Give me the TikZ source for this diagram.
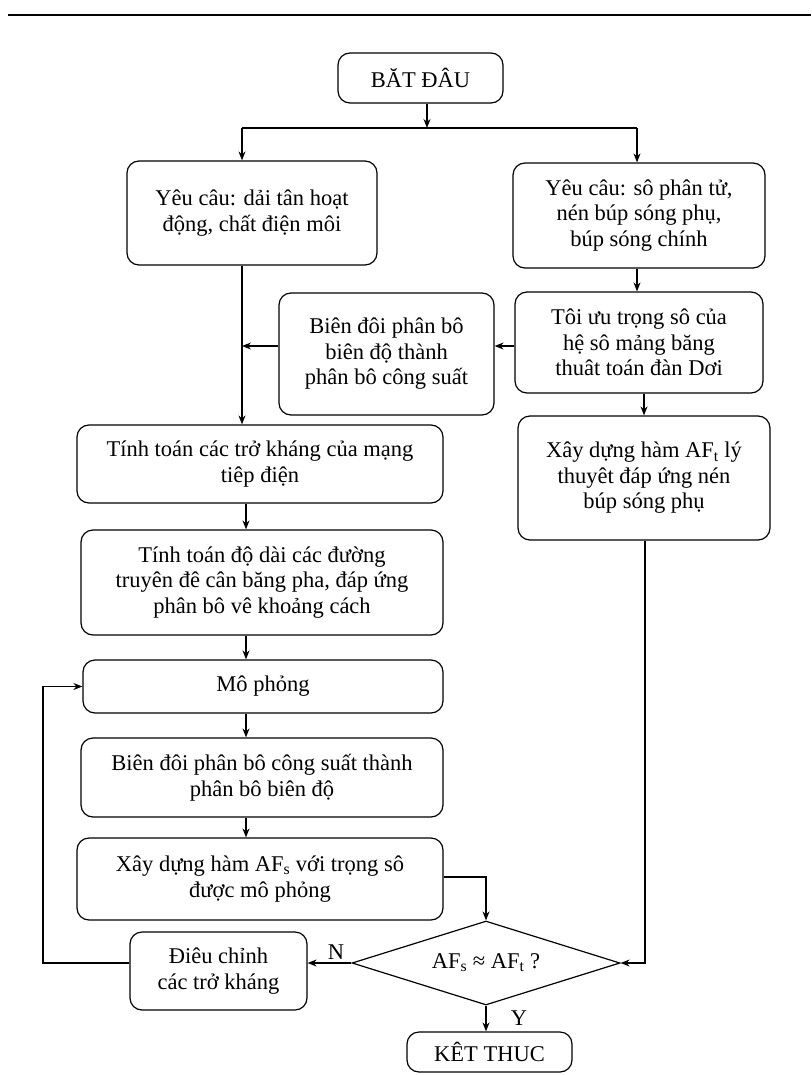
\documentclass[tikz,border=0pt]{standalone}
\usepackage{fontspec}
\setmainfont{Liberation Serif}
\usetikzlibrary{shapes.geometric,arrows.meta,positioning}

\begin{document}
\begin{tikzpicture}[x=1pt,y=-1pt,align=center,font=\fontsize{22.5}{25.5}\selectfont,
    line width=1.2pt,>={Stealth[length=9pt,width=7pt]},
    block/.style={rectangle,rounded corners=12pt,draw=black,line width=1.2pt,inner sep=2pt},
    decide/.style={diamond,draw=black,line width=1.2pt,inner sep=0pt,aspect=3.2}]
      \useasboundingbox (0,0) rectangle (811,1075);
      % header rule
      \draw[line width=1.5pt] (8,15) -- (811,15);

    % main modules
      \node[block,minimum width=165pt,minimum height=50pt] (start) at (420.5,78) {BĂT ĐÂU};
      \node[block,minimum width=250pt,minimum height=104pt] (req1) at (252,213) {Yêu câu: dải tân hoạt\\động, chất điện môi};
      \node[block,minimum width=252pt,minimum height=105pt] (req2) at (639,215.5) {Yêu câu: sô phân tử,\\nén búp sóng phụ,\\búp sóng chính};
      \node[block,minimum width=248pt,minimum height=101pt] (opt) at (639,342.5) {Tôi ưu trọng sô của\\hệ sô mảng băng\\thuât toán đàn Dơi};
      \node[block,minimum width=215pt,minimum height=122pt] (conv) at (386.5,354) {Biên đôi phân bô\\biên độ thành\\phân bô công suất};
      \node[block,minimum width=252pt,minimum height=124pt] (aft) at (644,478) {Xây dựng hàm AF\textsubscript{t} lý\\thuyêt đáp ứng nén\\búp sóng phụ};
      \node[block,minimum width=366pt,minimum height=78pt] (imp) at (260,464) {Tính toán các trở kháng của mạng\\tiêp điện};
      \node[block,minimum width=362pt,minimum height=105pt] (len) at (262,582.5) {Tính toán độ dài các đường\\truyên đê cân băng pha, đáp ứng\\phân bô vê khoảng cách};
      \node[block,minimum width=360pt,minimum height=53pt] (sim) at (263,686.5) {Mô phỏng};
      \node[block,minimum width=362pt,minimum height=79pt] (p2a) at (262,777.5) {Biên đôi phân bô công suất thành\\phân bô biên độ};
      \node[block,minimum width=366pt,minimum height=82pt] (afs) at (260,879) {Xây dựng hàm AF\textsubscript{s} với trọng sô\\được mô phỏng};
      % compare
      \node[decide,minimum width=268pt,minimum height=84pt] (dec) at (486,963) {AF\textsubscript{s} ≈ AF\textsubscript{t} ?};
      \node[block,minimum width=177pt,minimum height=78pt] (adj) at (218.5,971) {Điêu chỉnh\\các trở kháng};
      \node[block,minimum width=165pt,minimum height=40pt] (end) at (489.5,1052) {KÊT THUC};

      % junctions
      \coordinate (split) at (427,128);
      \coordinate (lx) at (242,128);
      \coordinate (rx) at (637,128);
      \coordinate (rx2) at (644,0);
      \coordinate (jn) at (242,346);
      \coordinate (cx) at (246,0);
      \coordinate (mx) at (486,877);
      \coordinate (ax) at (645,0);
      \coordinate (fb) at (43,0);

      % basic connections
      \draw[->] (start.south -| split) -- (split);
      \draw (lx) -- (rx);
      \draw[->] (lx) -- (lx |- req1.north);
      \draw[->] (rx) -- (rx |- req2.north);
      \draw[->] (req1.south -| lx) -- (imp.north -| lx);
      \draw[->] (req2.south -| rx) -- (opt.north -| rx);
      \draw[->] (opt.south -| rx2) -- (aft.north -| rx2);
      \draw[->] (opt.west |- jn) -- (conv.east |- jn);
      \draw[->] (conv.west |- jn) -- (jn);
      \draw[->] (imp.south -| cx) -- (len.north -| cx);
      \draw[->] (len.south -| cx) -- (sim.north -| cx);
      \draw[->] (sim.south -| cx) -- (p2a.north -| cx);
      \draw[->] (p2a.south -| cx) -- (afs.north -| cx);
      \draw[->] (afs.east |- mx) -- (mx) -- (dec.north);
      \draw[->] (aft.south -| ax) |- (dec.east);

      % loop back and exit
      \draw[->] (dec.west) -- node[above,pos=0.35]{N} (adj.east |- dec.west);
      \draw[->] (adj.west |- dec.west) -- (fb |- dec.west) |- (sim.west);
      \draw[->] (dec.south) -- node[pos=0.5,xshift=33pt]{Y} (end.north -| dec.south);

\end{tikzpicture}
\end{document}
